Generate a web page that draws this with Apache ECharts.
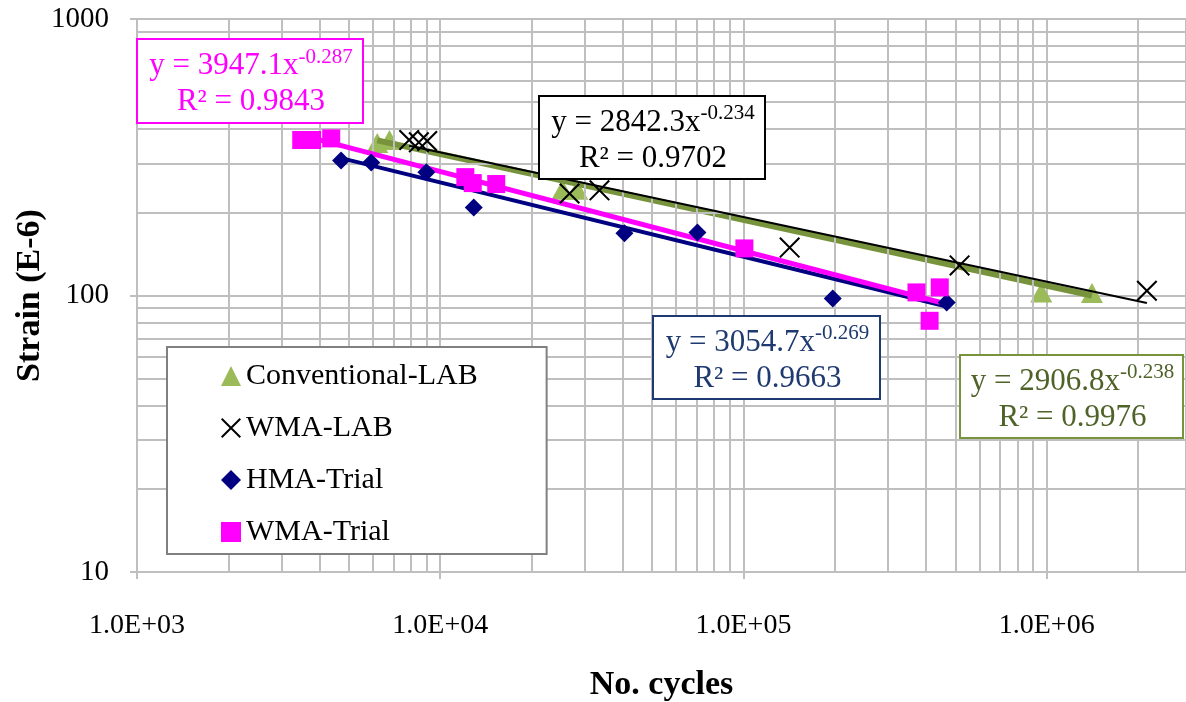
<!DOCTYPE html>
<html>
<head>
<meta charset="utf-8">
<script src="https://cdn.jsdelivr.net/npm/echarts@6/dist/echarts.min.js"></script>
<style>html,body{margin:0;padding:0;background:#fff;}#c{width:1186px;height:702px;}</style>
</head>
<body>
<div id="c"></div>
<script>
// ---- data ----
const convX = [6200, 6800, 25300, 28300, 960000, 1410000];
const convY = [356, 365, 241, 241, 102.6, 102];
const wmaLabX = [7900, 8500, 9060, 26700, 33500, 142000, 516000, 2140000];
const wmaLabY = [365, 358, 362, 234, 240, 149, 128.5, 104];
const hmaX = [4710, 5920, 9000, 12900, 40500, 70500, 197000, 468000];
const hmaY = [308, 303, 279, 208, 168, 169, 97.5, 94.4];
const wmaTrialX = [3480, 3780, 4370, 12100, 12800, 15300, 100700, 372000, 411000, 444000];
const wmaTrialY = [365, 365, 370, 268, 255, 253, 148, 102.6, 81, 107];

// trendline endpoints
const convTrendX = [6200, 1410000];   const convTrendY = [364, 100];
const wmaLabTrendX = [7900, 2140000];  const wmaLabTrendY = [348, 94];
const hmaTrendX = [4710, 468000];      const hmaTrendY = [314, 91.2];
const wmaTrialTrendX = [3480, 444000]; const wmaTrialTrendY = [380, 94.5];

const seriesNames = ['Conventional-LAB', 'WMA-LAB', 'HMA-Trial', 'WMA-Trial'];
const eqTexts = [
  ['3947.1', '-0.287', '0.9843'],
  ['2842.3', '-0.234', '0.9702'],
  ['3054.7', '-0.269', '0.9663'],
  ['2906.8', '-0.238', '0.9976']
];
const xMajor = [1e3, 1e4, 1e5, 1e6];
const yMajor = [10, 100, 1000];

// minor gridline positions (2..9 per decade)
const xMinor = [], yMinor = [];
[1e3, 1e4, 1e5, 1e6].forEach(d => { for (let k = 2; k <= 9; k++) xMinor.push(k * d); });
[10, 100].forEach(d => { for (let k = 2; k <= 9; k++) yMinor.push(k * d); });

const zip = (a, b) => a.map((v, i) => [v, b[i]]);
const FONT = '"Liberation Serif","Times New Roman",serif';
const GRID = '#BFBFBF';
const xPath = 'path://M0,1.4L1.4,0L20,18.6L18.6,20Z M18.6,0L20,1.4L1.4,20L0,18.6Z';

const chart = echarts.init(document.getElementById('c'), null, {renderer: 'canvas'});

function box(x, y, w, h, color, txtColor, eq) {
  return [
    {type: 'rect', z: 100, shape: {x: x, y: y, width: w, height: h},
     style: {fill: '#fff', stroke: color, lineWidth: 2}},
    {type: 'text', z: 101, x: x + w / 2 + 1, y: y + h / 2 + 3,
     style: {
       text: '{a|y = ' + eq[0] + 'x}{s|' + eq[1] + '}\n{a|R² = ' + eq[2] + '}',
       align: 'center', verticalAlign: 'middle',
       rich: {
         a: {fontFamily: FONT, fontSize: 31, fill: txtColor, lineHeight: 36},
         s: {fontFamily: FONT, fontSize: 21, fill: txtColor, lineHeight: 36, padding: [0, 0, 18, 0]}
       }
     }}
  ];
}

const option = {
  backgroundColor: '#fff',
  animation: false,
  grid: {left: 137, right: 0, top: 19, bottom: 130, outerBoundsMode: 'none', containLabel: false},
  xAxis: {
    type: 'log', logBase: 10, min: 1000, max: 2880000,
    name: 'No. cycles', nameLocation: 'middle', nameGap: 96,
    nameTextStyle: {fontFamily: FONT, fontSize: 34, fontWeight: 'bold', color: '#000'},
    axisLine: {lineStyle: {color: GRID, width: 2}},
    axisTick: {show: true, length: 7, lineStyle: {color: GRID, width: 2}},
    axisLabel: {
      fontFamily: FONT, fontSize: 28, color: '#000', margin: 40, showMaxLabel: false,
      formatter: v => {
        const e = Math.round(Math.log10(v));
        const m = v / Math.pow(10, e);
        return m.toFixed(1) + 'E+' + String(e).padStart(2, '0');
      }
    },
    splitLine: {show: true, lineStyle: {color: GRID, width: 2}}
  },
  yAxis: {
    type: 'log', logBase: 10, min: 10, max: 1000,
    name: 'Strain (E-6)', nameLocation: 'middle', nameGap: 90, nameRotate: 90,
    nameMoveOverlap: false,
    nameTextStyle: {fontFamily: FONT, fontSize: 34, fontWeight: 'bold', color: '#000'},
    axisLine: {show: true, lineStyle: {color: GRID, width: 2}},
    axisTick: {show: true, length: 7, lineStyle: {color: GRID, width: 2}},
    axisLabel: {fontFamily: FONT, fontSize: 29, color: '#000', margin: 28,
      formatter: v => String(Math.round(v))},
    splitLine: {show: true, lineStyle: {color: GRID, width: 2}}
  },
  legend: {
    data: seriesNames.map(n => ({name: n})),
    orient: 'vertical', left: 167, top: 347,
    padding: [14, 69, 7, 54],
    itemGap: 22, itemWidth: 20, itemHeight: 20,
    backgroundColor: '#fff', borderColor: '#808080', borderWidth: 2,
    textStyle: {fontFamily: FONT, fontSize: 30, color: '#000', lineHeight: 30},
    z: 50
  },
  graphic: [].concat(
    box(137, 39, 226, 84, '#FF00FF', '#FF00FF', eqTexts[0]),
    box(539, 96, 226, 83, '#000000', '#000000', eqTexts[1]),
    box(653, 316, 227, 83, '#1F3A70', '#1F3A70', eqTexts[2]),
    box(960, 355, 223, 83, '#77933C', '#4F6228', eqTexts[3])
  ),
  series: [
    {
      type: 'line', name: 'grid-minor', data: [], z: 0, silent: true,
      markLine: {
        silent: true, symbol: ['none', 'none'], animation: false,
        label: {show: false},
        lineStyle: {color: GRID, width: 2, type: 'solid'},
        emphasis: {disabled: true},
        data: xMinor.map(v => ({xAxis: v})).concat(yMinor.map(v => ({yAxis: v})))
      }
    },
    {name: 'Conventional-LAB', type: 'scatter', data: zip(convX, convY), z: 3,
     symbol: 'triangle', symbolSize: [22, 20], itemStyle: {color: '#9BBB59', opacity: 1}},
    {name: 'conv-trend', type: 'line', data: zip(convTrendX, convTrendY), z: 4,
     symbol: 'none', lineStyle: {color: '#77933C', width: 6}},
    {name: 'HMA-Trial', type: 'scatter', data: zip(hmaX, hmaY), z: 6,
     symbol: 'diamond', symbolSize: [18, 18], itemStyle: {color: '#000080', opacity: 1}},
    {name: 'hma-trend', type: 'line', data: zip(hmaTrendX, hmaTrendY), z: 5,
     symbol: 'none', lineStyle: {color: '#000080', width: 4}},
    {name: 'WMA-Trial', type: 'scatter', data: zip(wmaTrialX, wmaTrialY), z: 6,
     symbol: 'rect', symbolSize: [18, 18], itemStyle: {color: '#FF00FF', opacity: 1}},
    {name: 'wmat-trend', type: 'line', data: zip(wmaTrialTrendX, wmaTrialTrendY), z: 5,
     symbol: 'none', lineStyle: {color: '#FF00FF', width: 5}},
    {name: 'WMA-LAB', type: 'scatter', data: zip(wmaLabX, wmaLabY), z: 8,
     symbol: xPath, symbolSize: [21, 21], itemStyle: {color: '#000000', opacity: 1}},
    {name: 'wmal-trend', type: 'line', data: zip(wmaLabTrendX, wmaLabTrendY), z: 7,
     symbol: 'none', lineStyle: {color: '#000000', width: 2}}
  ]
};
chart.setOption(option);
</script>
</body>
</html>
